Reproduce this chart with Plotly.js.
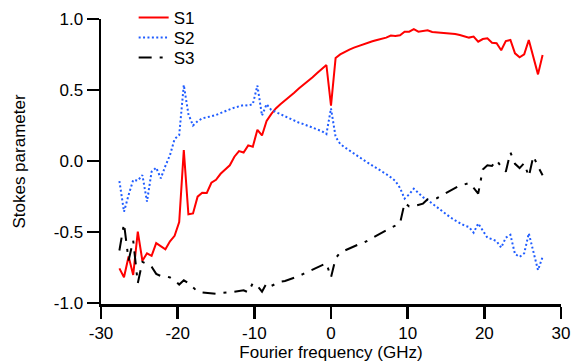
<!DOCTYPE html>
<html>
<head>
<meta charset="utf-8">
<script src="https://cdn.plot.ly/plotly-3.0.1.min.js"></script>
<style>html,body{margin:0;padding:0;background:#fff;}#chart{width:572px;height:364px;}</style>
</head>
<body>
<div id="chart"></div>
<script>
const freq = [-27.6,-27.0,-26.4,-25.8,-25.2,-24.6,-24.0,-23.4,-22.8,-22.2,-21.6,-21.0,-20.4,-19.8,-19.2,-18.6,-18.0,-17.4,-16.8,-16.2,-15.6,-15.0,-14.4,-13.8,-13.2,-12.6,-12.0,-11.4,-10.8,-10.2,-9.6,-9.0,-8.4,-7.8,-7.2,-6.6,-6.0,-5.4,-4.8,-4.2,-3.6,-3.0,-2.4,-1.8,-1.2,-0.6,0.0,0.6,1.2,1.8,2.4,3.0,3.6,4.2,4.8,5.4,6.0,6.6,7.2,7.8,8.4,9.0,9.6,10.2,10.8,11.4,12.0,12.6,13.2,13.8,14.4,15.0,15.6,16.2,16.8,17.4,18.0,18.6,19.2,19.8,20.4,21.0,21.6,22.2,22.8,23.4,24.0,24.6,25.2,25.8,26.4,27.0,27.6];

const s1 = [-0.756,-0.819,-0.672,-0.802,-0.498,-0.703,-0.650,-0.668,-0.578,-0.599,-0.622,-0.565,-0.527,-0.430,0.077,-0.375,-0.369,-0.251,-0.223,-0.225,-0.153,-0.132,-0.090,-0.060,-0.030,0.030,0.070,0.060,0.110,0.100,0.220,0.180,0.282,0.330,0.370,0.400,0.425,0.450,0.480,0.510,0.535,0.560,0.590,0.620,0.650,0.676,0.390,0.725,0.751,0.770,0.784,0.798,0.810,0.819,0.831,0.843,0.852,0.859,0.869,0.883,0.880,0.885,0.911,0.911,0.928,0.911,0.915,0.920,0.908,0.906,0.903,0.899,0.899,0.895,0.887,0.880,0.869,0.876,0.840,0.859,0.864,0.833,0.829,0.780,0.845,0.852,0.758,0.730,0.751,0.852,0.723,0.610,0.746];

const s2 = [-0.141,-0.357,-0.239,-0.134,-0.138,-0.099,-0.286,-0.075,-0.047,-0.122,-0.035,0.042,0.155,0.183,0.535,0.330,0.250,0.280,0.300,0.310,0.315,0.324,0.338,0.354,0.364,0.376,0.387,0.394,0.390,0.400,0.531,0.320,0.400,0.360,0.345,0.330,0.310,0.295,0.280,0.270,0.260,0.245,0.235,0.222,0.210,0.190,0.370,0.170,0.120,0.096,0.073,0.049,0.028,0.009,-0.012,-0.031,-0.052,-0.073,-0.092,-0.115,-0.141,-0.190,-0.265,-0.235,-0.195,-0.225,-0.255,-0.275,-0.300,-0.325,-0.352,-0.375,-0.398,-0.418,-0.438,-0.455,-0.465,-0.505,-0.440,-0.490,-0.540,-0.550,-0.565,-0.610,-0.540,-0.520,-0.655,-0.675,-0.650,-0.510,-0.640,-0.768,-0.675];

const s3 = [-0.630,-0.440,-0.700,-0.560,-0.860,-0.710,-0.725,-0.745,-0.795,-0.810,-0.810,-0.820,-0.840,-0.870,-0.840,-0.860,-0.890,-0.920,-0.925,-0.930,-0.935,-0.935,-0.930,-0.930,-0.925,-0.920,-0.915,-0.910,-0.925,-0.860,-0.880,-0.920,-0.860,-0.880,-0.865,-0.850,-0.845,-0.835,-0.825,-0.810,-0.795,-0.780,-0.760,-0.745,-0.730,-0.720,-0.820,-0.685,-0.645,-0.630,-0.615,-0.600,-0.587,-0.578,-0.560,-0.540,-0.520,-0.503,-0.486,-0.470,-0.455,-0.440,-0.295,-0.320,-0.318,-0.310,-0.300,-0.270,-0.270,-0.262,-0.245,-0.225,-0.210,-0.190,-0.172,-0.165,-0.155,-0.190,-0.230,-0.060,-0.030,-0.035,0.005,-0.040,-0.075,0.060,-0.020,-0.050,-0.015,-0.110,0.035,-0.040,-0.100];

const seriesNames = ['S1','S2','S3'];
const xTicks = [-30,-20,-10,0,10,20,30];
const yTicks = [-1.0,-0.5,0.0,0.5,1.0];
const yTickText = ['-1.0','-0.5','0.0','0.5','1.0'];

const FONT = 'Liberation Sans, Arial, Helvetica, sans-serif';

const traces = [
  {x: freq, y: s1, name: seriesNames[0], type: 'scatter', mode: 'lines',
   line: {color: '#ff0000', width: 2}, legend: 'legend'},
  {x: freq, y: s2, name: seriesNames[1], type: 'scatter', mode: 'lines',
   line: {color: '#1f5cff', width: 2, dash: '2px,2.4px'}, legend: 'legend2'},
  {x: freq, y: s3, name: seriesNames[2], type: 'scatter', mode: 'lines',
   line: {color: '#000000', width: 2, dash: '13px,8px,3px,8px'}, legend: 'legend3'}
];

const legendBase = {
  xanchor: 'left', yanchor: 'middle', x: 0.071,
  bgcolor: 'rgba(0,0,0,0)', borderwidth: 0,
  font: {family: FONT, size: 17, color: '#000'}
};

const layout = {
  width: 572, height: 364,
  margin: {l: 101, r: 11, t: 19, b: 60, autoexpand: false},
  paper_bgcolor: '#ffffff', plot_bgcolor: '#ffffff',
  font: {family: FONT, size: 17, color: '#000'},
  showlegend: true,
  legend: Object.assign({}, legendBase, {y: 1.0035}),
  legend2: Object.assign({}, legendBase, {y: 0.9333}),
  legend3: Object.assign({}, legendBase, {y: 0.8631}),
  xaxis: {
    range: [-30, 30], tickvals: xTicks, ticktext: xTicks.map(String),
    showline: true, linecolor: '#000', linewidth: 2.5,
    ticks: 'outside', ticklen: 12, tickwidth: 2.5, tickcolor: '#000',
    showgrid: false, zeroline: false, mirror: false, automargin: false,
    tickfont: {family: FONT, size: 17, color: '#000'},
    title: {text: 'Fourier frequency (GHz)', font: {family: FONT, size: 17, color: '#000'}, standoff: 4}
  },
  yaxis: {
    range: [-1.007, 1.0], tickvals: yTicks, ticktext: yTickText,
    showline: true, linecolor: '#000', linewidth: 2.5,
    ticks: 'outside', ticklen: 12, tickwidth: 2.5, tickcolor: '#000',
    showgrid: false, zeroline: false, mirror: false, automargin: false,
    tickfont: {family: FONT, size: 17, color: '#000'},
    title: {text: 'Stokes parameter', font: {family: FONT, size: 17, color: '#000'}, standoff: 24}
  }
};

Plotly.newPlot('chart', traces, layout, {staticPlot: true, displayModeBar: false});
</script>
</body>
</html>
